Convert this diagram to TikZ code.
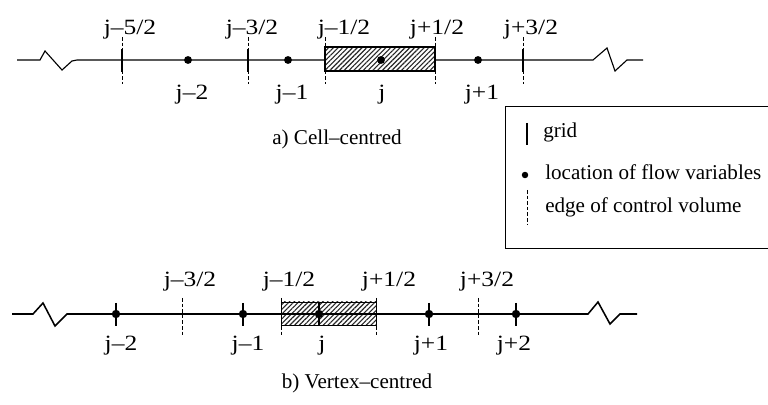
\documentclass[tikz,border=0pt]{standalone}
\usepackage{fontspec}
\setmainfont{Liberation Serif}
\newfontfamily\labelfont[FakeStretch=1.17]{Liberation Serif}
\usetikzlibrary{patterns.meta}

\begin{document}
\begin{tikzpicture}[x=0.025cm,y=-0.025cm,
  mainline/.style={line width=0.8pt},
  gridtick/.style={line width=1.5pt},
  edgetick/.style={line width=0.55pt,dash pattern=on 2.5pt off 1.5pt},
  hatched/.style={pattern={Lines[angle=45,distance=2.4pt,line width=0.8pt]},pattern color=black!85},
  lbl/.style={font=\fontsize{15.5}{18}\labelfont,anchor=base,inner sep=0pt},
  capt/.style={font=\fontsize{15}{18}\selectfont,anchor=base,inner sep=0pt}]
  \useasboundingbox (0,0) rectangle (768,405);

  % a) cell-centred
  \draw[mainline] (17,60) -- (40,60) -- (45,51) -- (62,70) -- (72,61) -- (77,60) -- (325,60);
  \draw[mainline] (435,60) -- (593,60) -- (607,48) -- (615,71) -- (627,60) -- (643,60);
  \draw[line width=0.9pt,hatched,preaction={fill=white}] (325,47) rectangle (435,71);
  \foreach \x/\lab/\lx [count=\i] in {122/{j–5/2}/130,248/{j–3/2}/252,325/{j–1/2}/344,435/{j+1/2}/437,523/{j+3/2}/531}{
    \draw[edgetick] (\x,37) -- (\x,84);
    \draw[gridtick] (\x,49) -- (\x,72);
    \node[lbl] (aedge-\i) at (\lx,35) {\lab};
  }
  \foreach \x/\lx/\lab [count=\i] in {188/192/{j–2},288/292/{j–1},381/382/j,478/482/{j+1}}{
    \fill (\x,60) circle[radius=2.8pt];
    \node[lbl] (apt-\i) at (\lx,100) {\lab};
  }
  \node[capt] (capa) at (337,145) {a) Cell–centred};

  % legend
  \draw[line width=0.6pt] (768,106) -- (505,106) -- (505,248) -- (768,248);
  \draw[line width=1pt] (527,123) -- (527,145);
  \node[capt,anchor=base west] (leggrid) at (543,138) {grid};
  \fill (525,175) circle[radius=2.3pt];
  \node[capt,anchor=base west] (legflow) at (545,180) {location of flow variables};
  \draw[edgetick] (527,190) -- (527,225);
  \node[capt,anchor=base west] (legedge) at (545,213) {edge of control volume};

  % b) vertex-centred
  \draw[line width=0.5pt,hatched] (281,302) rectangle (376,325);
  \draw[mainline,line width=1.1pt] (12,314) -- (33,314) -- (43,303) -- (55,326) -- (67,314) -- (588,314) -- (598,302) -- (610,324) -- (620,314) -- (637,314);
  \foreach \x/\lab/\lx [count=\i] in {182/{j–3/2}/190,281/{j–1/2}/289,376/{j+1/2}/389,478/{j+3/2}/487}{
    \draw[edgetick] (\x,298) -- (\x,335);
    \node[lbl] (bedge-\i) at (\lx,287) {\lab};
  }
  \foreach \x/\lx/\lab [count=\i] in {116/121/{j–2},243/248/{j–1},319/322/j,429/431/{j+1},516/514/{j+2}}{
    \draw[gridtick] (\x,303) -- (\x,326);
    \fill (\x,314) circle[radius=3pt];
    \node[lbl] (bpt-\i) at (\lx,350) {\lab};
  }
  \node[capt] (capb) at (357,388) {b) Vertex–centred};
\end{tikzpicture}
\end{document}
